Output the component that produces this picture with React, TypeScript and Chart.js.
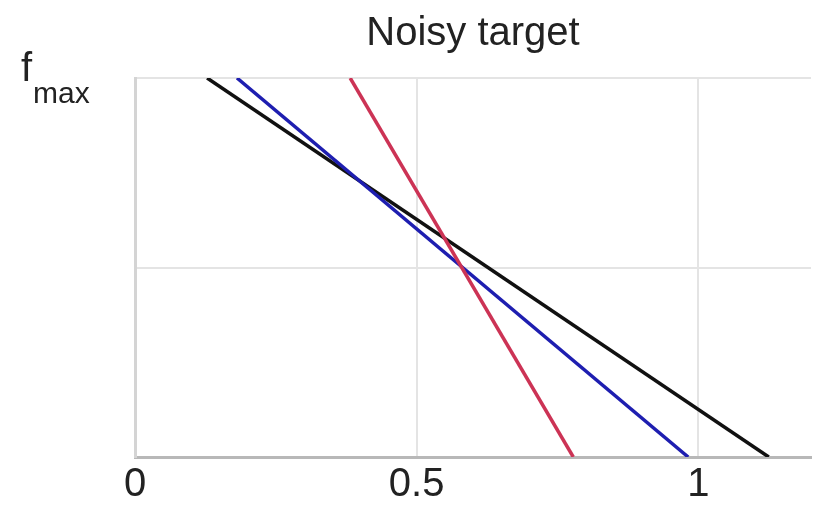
import React, { useEffect, useRef } from "react";
import { Chart, registerables } from "chart.js";

Chart.register(...registerables);

const TITLE = "Noisy target";
const X_TICKS = [0, 0.5, 1];
const X_TICK_LABELS = ["0", "0.5", "1"];
const Y_TICKS = [0, 0.5, 1];
const Y_TOP_LABEL_MAIN = "f";
const Y_TOP_LABEL_SUB = "max";

const BLACK_X = [0.128, 1.125];
const BLACK_Y = [1, 0];
const BLUE_X = [0.181, 0.982];
const BLUE_Y = [1, 0];
const RED_X = [0.382, 0.778];
const RED_Y = [1, 0];

const FONT = "'Liberation Sans', Arial, sans-serif";

const toPts = (xs: number[], ys: number[]) => xs.map((x, i) => ({ x, y: ys[i] }));

const fmaxPlugin = {
  id: "fmaxLabel",
  afterDraw(chart: any) {
    const ctx = chart.ctx;
    const y = chart.scales.y.getPixelForValue(1);
    ctx.save();
    ctx.fillStyle = "#222";
    ctx.textBaseline = "alphabetic";
    ctx.textAlign = "left";
    ctx.font = `40px ${FONT}`;
    ctx.fillText(Y_TOP_LABEL_MAIN, 21, y + 3);
    ctx.font = `30px ${FONT}`;
    ctx.fillText(Y_TOP_LABEL_SUB, 33, y + 25);
    ctx.restore();
  },
};

export default function App() {
  const ref = useRef<HTMLCanvasElement | null>(null);
  useEffect(() => {
    if (!ref.current) return;
    const mk = (label: string, xs: number[], ys: number[], color: string) => ({
      label,
      data: toPts(xs, ys),
      showLine: true,
      borderColor: color,
      backgroundColor: color,
      borderWidth: 3.5,
      pointRadius: 0,
      fill: false,
    });
    const chart = new Chart(ref.current, {
      type: "scatter",
      data: {
        datasets: [
          mk("red", RED_X, RED_Y, "#cc3355"),
          mk("blue", BLUE_X, BLUE_Y, "#1e1eb0"),
          mk("black", BLACK_X, BLACK_Y, "#111111"),
        ],
      },
      options: {
        animation: false,
        responsive: false,
        layout: { padding: { left: 0, right: 12, top: 0, bottom: 0 } },
        plugins: {
          legend: { display: false },
          tooltip: { enabled: false },
          title: {
            display: true,
            text: TITLE,
            fullSize: false,
            color: "#222",
            font: { family: FONT, size: 40, weight: "normal" },
            padding: { top: 10, bottom: 20 },
          },
        },
        scales: {
          x: {
            type: "linear",
            min: 0,
            max: 1.2,
            afterBuildTicks: (s: any) => {
              s.ticks = X_TICKS.map((v) => ({ value: v }));
            },
            afterFit: (s: any) => {
              s.height = 50;
            },
            ticks: {
              color: "#222",
              font: { family: FONT, size: 40 },
              padding: 4,
              maxRotation: 0,
              callback: (v: any) => {
                const i = X_TICKS.indexOf(Number(v));
                return i >= 0 ? X_TICK_LABELS[i] : "";
              },
            },
            grid: { color: "#e4e4e4", lineWidth: 2, drawTicks: false },
            border: { color: "#b8b8b8", width: 3 },
          },
          y: {
            type: "linear",
            min: 0,
            max: 1,
            afterBuildTicks: (s: any) => {
              s.ticks = Y_TICKS.map((v) => ({ value: v }));
            },
            afterFit: (s: any) => {
              s.width = 135;
            },
            ticks: { display: false },
            grid: { color: "#e4e4e4", lineWidth: 2, drawTicks: false },
            border: { color: "#d4d4d4", width: 3 },
          },
        },
      },
      plugins: [fmaxPlugin],
    } as any);
    return () => chart.destroy();
  }, []);
  return (
    <div style={{ position: "fixed", left: 0, top: 0, width: 823, height: 507, background: "#fff" }}>
      <canvas ref={ref} width={823} height={507} style={{ display: "block" }} />
    </div>
  );
}
